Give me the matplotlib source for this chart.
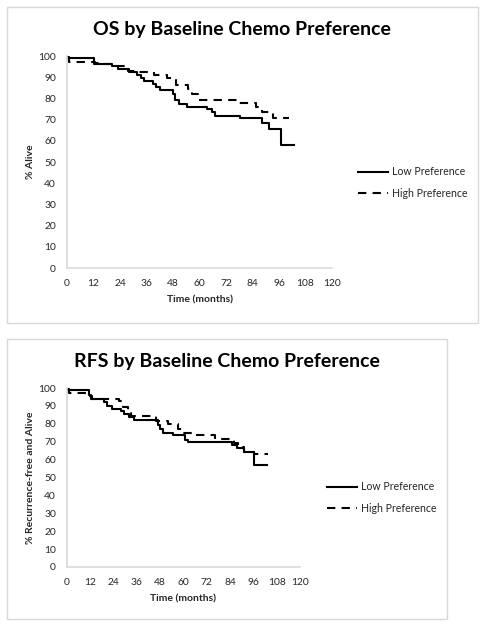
import matplotlib
matplotlib.use("Agg")
import matplotlib.pyplot as plt
from matplotlib.patches import Rectangle
from matplotlib.lines import Line2D

plt.rcParams['font.family'] = ['Lato', 'DejaVu Sans']

# ---- Data (step curves: start times and survival %) ----
os_low_t = [0, 12.3, 20.5, 23.3, 28, 31.7, 33.5, 35, 39, 40.5, 42, 48.2, 48.8, 50.5, 54.5, 63.3, 65.5, 67.2, 78.3, 88.3, 91.5, 97, 103]
os_low_v = [99.0, 96.1, 95.2, 93.7, 92.3, 91.0, 89.6, 88.2, 86.7, 85.2, 84.0, 82.0, 79.3, 77.4, 76.1, 74.9, 73.4, 71.9, 70.6, 68.3, 65.5, 58.1, 58.1]

os_high_t = [0, 1, 12.5, 16.5, 22, 27.5, 31.5, 39.2, 45.5, 49.2, 55, 56.5, 59.3, 77.7, 85.8, 88.5, 93.3, 100.5]
os_high_v = [99.5, 97.3, 96.8, 96.1, 95.3, 92.9, 92.5, 91.2, 89.8, 86.2, 84.6, 81.9, 79.3, 77.7, 75.9, 73.8, 70.6, 70.6]

rfs_low_t = [0, 11.1, 12.5, 19, 20.5, 23, 28, 29.5, 32, 34.5, 47, 48, 49.5, 54.5, 61, 62.5, 85, 87.5, 91, 96.3, 103]
rfs_low_v = [98.9, 96.0, 94.0, 92.0, 90.1, 88.5, 87.0, 85.7, 83.8, 81.9, 79.1, 77.0, 75.0, 73.6, 71.2, 69.8, 68.0, 66.5, 64.2, 57.2, 57.2]

rfs_high_t = [0, 1, 10.5, 13, 27, 29, 31.5, 33, 46, 52, 57, 60, 65, 76, 86, 88, 91, 96.5, 103.7]
rfs_high_v = [99.3, 97.4, 95.5, 94.0, 92.8, 89.4, 86.0, 84.2, 81.4, 79.7, 77.3, 75.0, 73.6, 71.7, 69.0, 67.0, 64.2, 62.9, 62.9]

x_ticks = list(range(0, 121, 12))
y_ticks = list(range(0, 101, 10))
series_labels = ["Low Preference", "High Preference"]

W, H = 486, 626
fig = plt.figure(figsize=(W / 100, H / 100), dpi=100)
fig.patch.set_facecolor("white")

TXT = "#262626"
GRID = "#d9d9d9"
DASH = (0, (4, 3))


def frac_box(x0, y0, x1, y1):
    return [x0 / W, 1 - y1 / H, (x1 - x0) / W, (y1 - y0) / H]


def panel(box, axbox, title, title_xy, ylabel, low, high, leg_x, leg_y):
    l, b, w, h = frac_box(*box)
    fig.add_artist(Rectangle((l, b), w, h, transform=fig.transFigure,
                             fill=False, edgecolor=GRID, linewidth=1.0))
    ax = fig.add_axes(frac_box(*axbox))
    ax.plot(low[0], low[1], drawstyle='steps-post', color='black', lw=1.5,
            label=series_labels[0])
    ax.plot(high[0], high[1], drawstyle='steps-post', color='black', lw=1.5,
            linestyle=DASH, label=series_labels[1])
    ax.set_xlim(0, 120)
    ax.set_ylim(0, 100)
    ax.set_xticks(x_ticks)
    ax.set_yticks(y_ticks)
    ax.tick_params(length=0, labelsize=7.4, colors=TXT)
    ax.tick_params(axis='x', pad=8)
    ax.tick_params(axis='y', pad=8)
    for s in ['top', 'right']:
        ax.spines[s].set_visible(False)
    for s in ['left', 'bottom']:
        ax.spines[s].set_color(GRID)
        ax.spines[s].set_linewidth(1.2)
    ax.set_xlabel("Time (months)", fontsize=7.5, fontweight='bold', color=TXT, labelpad=5)
    ax.set_ylabel(ylabel, fontsize=7.5, fontweight='bold', color=TXT, labelpad=2)
    fig.text(title_xy[0] / W, 1 - title_xy[1] / H, title, ha='center', va='center',
             fontsize=14, fontweight='bold', color='black')
    handles = [Line2D([], [], color='black', lw=1.5),
               Line2D([], [], color='black', lw=1.5, linestyle=DASH)]
    fig.legend(handles, series_labels, loc='center left',
               bbox_to_anchor=(leg_x / W, 1 - leg_y / H), frameon=False,
               fontsize=7.6, handlelength=2.85, handletextpad=0.35,
               labelspacing=1.0, borderaxespad=0, borderpad=0, labelcolor=TXT)
    return ax


panel((7, 7, 478, 323), (67, 56, 332, 268), "OS by Baseline Chemo Preference",
      (242, 30), "% Alive", (os_low_t, os_low_v), (os_high_t, os_high_v), 358, 182.5)
panel((7, 339, 447, 619), (67, 388, 300, 567), "RFS by Baseline Chemo Preference",
      (227, 362), "% Recurrence-free and Alive", (rfs_low_t, rfs_low_v),
      (rfs_high_t, rfs_high_v), 327, 497.5)

fig.savefig("out.png", dpi=100, facecolor="white")
